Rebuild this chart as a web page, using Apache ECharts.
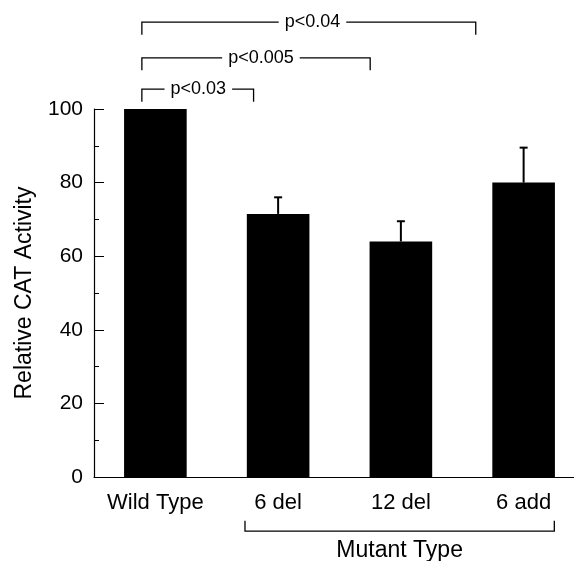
<!DOCTYPE html>
<html>
<head>
<meta charset="utf-8">
<script src="https://cdn.jsdelivr.net/npm/echarts@6/dist/echarts.min.js"></script>
<style>
html,body{margin:0;padding:0;background:#fff;}
#chart{width:574px;height:561px;}
</style>
</head>
<body>
<div id="chart"></div>
<script>
// ---- data ----
var categories = ['Wild Type', '6 del', '12 del', '6 add'];
var values = [100, 71.5, 64, 80];
var errorUpper = [null, 76, 69.5, 89.5];
var yTicks = [0, 20, 40, 60, 80, 100];

// significance brackets (x in category units, level in value units)
var sigLabels = ['p<0.03', 'p<0.005', 'p<0.04'];
var sigFrom = [-0.11, -0.11, -0.11];
var sigTo = [0.8, 1.75, 2.61];
var sigTextAt = [0.35, 0.86, 1.28];
var sigLevel = [105.4, 113.9, 123.6];
var sigLeg = 3.4;

// group bracket under x axis
var groupLabel = 'Mutant Type';
var groupFrom = 0.73;
var groupTo = 3.25;
var groupLevel = -14.7;
var groupLeg = 2.8;
var groupTextLevel = -20;

var FONT = '"Liberation Sans", Arial, Helvetica, sans-serif';
var chart = echarts.init(document.getElementById('chart'), null, {renderer: 'canvas'});

function xPix(api, pos) {
  var c0 = api.coord([0, 0])[0];
  var band = api.size([1, 0])[0];
  return c0 + pos * band;
}

var option = {
  backgroundColor: '#fff',
  animation: false,
  grid: {left: 94, top: 109, width: 491, height: 368, containLabel: false, outerBoundsMode: 'none'},
  xAxis: {
    type: 'category',
    data: categories,
    boundaryGap: true,
    axisLine: {show: true, lineStyle: {color: '#000', width: 1.2}},
    axisTick: {show: false},
    axisLabel: {color: '#000', fontSize: 22, fontFamily: FONT, margin: 15, interval: 0, hideOverlap: false}
  },
  yAxis: {
    type: 'value',
    min: 0, max: 100, interval: 20,
    name: 'Relative CAT Activity',
    nameLocation: 'middle',
    nameGap: 58,
    nameTextStyle: {color: '#000', fontSize: 23, fontFamily: FONT},
    axisLine: {show: true, lineStyle: {color: '#000', width: 1.2}},
    axisTick: {show: true, inside: true, length: 10, lineStyle: {color: '#000', width: 1}},
    minorTick: {show: true, splitNumber: 2, length: 5, lineStyle: {color: '#000', width: 1}},
    splitLine: {show: false},
    axisLabel: {color: '#000', fontSize: 21, fontFamily: FONT, margin: 11,
      formatter: function (v) { return yTicks.indexOf(v) >= 0 ? String(v) : ''; }}
  },
  series: [
    {
      type: 'bar',
      data: values,
      barWidth: '51%',
      itemStyle: {color: '#000'},
      z: 2
    },
    {
      type: 'custom',
      clip: false,
      z: 3,
      data: values.map(function (v, i) { return [i, v, errorUpper[i]]; }),
      renderItem: function (params, api) {
        var i = params.dataIndex;
        if (errorUpper[i] == null) return null;
        var p0 = api.coord([i, values[i]]);
        var p1 = api.coord([i, errorUpper[i]]);
        var cw = 4;
        return {
          type: 'group',
          children: [
            {type: 'line', shape: {x1: p0[0], y1: p0[1], x2: p1[0], y2: p1[1]}, style: {stroke: '#000', lineWidth: 2}},
            {type: 'line', shape: {x1: p1[0] - cw, y1: p1[1], x2: p1[0] + cw, y2: p1[1]}, style: {stroke: '#000', lineWidth: 2}}
          ]
        };
      }
    },
    {
      type: 'custom',
      clip: false,
      z: 4,
      data: sigLabels.map(function (l, i) { return [0, sigLevel[i]]; }),
      renderItem: function (params, api) {
        var i = params.dataIndex;
        var xl = xPix(api, sigFrom[i]);
        var xr = xPix(api, sigTo[i]);
        var xt = xPix(api, sigTextAt[i]);
        var y = api.coord([0, sigLevel[i]])[1];
        var yl = api.coord([0, sigLevel[i] - sigLeg])[1];
        return {
          type: 'group',
          children: [
            {type: 'polyline', shape: {points: [[xl, yl], [xl, y], [xr, y], [xr, yl]]}, style: {stroke: '#000', lineWidth: 1.3, fill: null}},
            {type: 'text', style: {text: sigLabels[i], x: xt, y: y, align: 'center', verticalAlign: 'middle',
              fill: '#000', font: '18px ' + FONT, backgroundColor: '#fff', padding: [2, 6]}}
          ]
        };
      }
    },
    {
      type: 'custom',
      clip: false,
      z: 4,
      data: [[0, groupLevel]],
      renderItem: function (params, api) {
        var xl = xPix(api, groupFrom);
        var xr = xPix(api, groupTo);
        var y = api.coord([0, groupLevel])[1];
        var yl = api.coord([0, groupLevel + groupLeg])[1];
        var yt = api.coord([0, groupTextLevel])[1];
        return {
          type: 'group',
          children: [
            {type: 'polyline', shape: {points: [[xl, yl], [xl, y], [xr, y], [xr, yl]]}, style: {stroke: '#000', lineWidth: 1.3, fill: null}},
            {type: 'text', style: {text: groupLabel, x: (xl + xr) / 2, y: yt, align: 'center', verticalAlign: 'middle',
              fill: '#000', font: '23px ' + FONT}}
          ]
        };
      }
    }
  ]
};
chart.setOption(option);
</script>
</body>
</html>
